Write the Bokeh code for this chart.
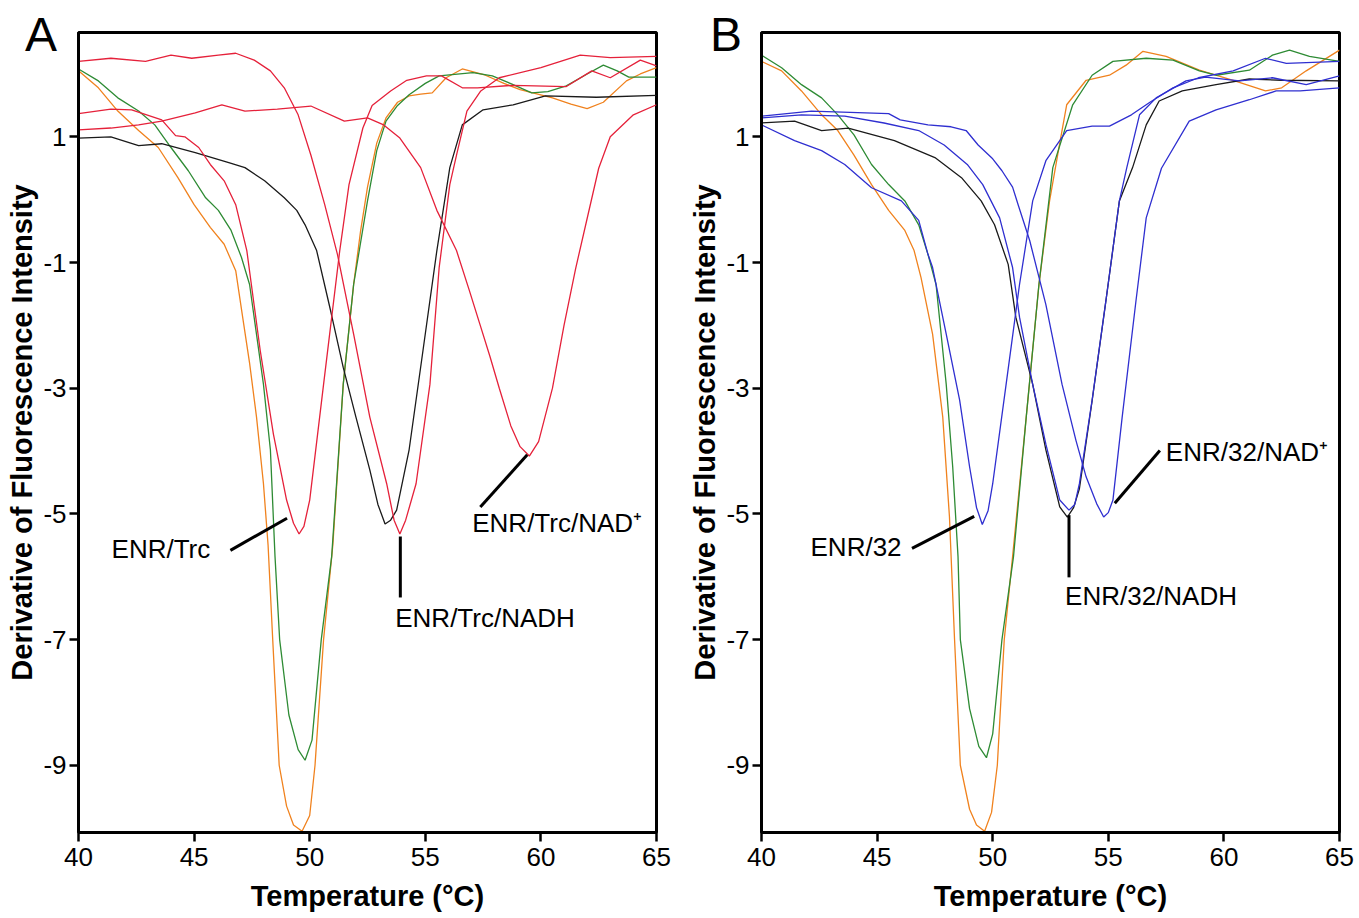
from bokeh.plotting import figure
from bokeh.layouts import row, column
from bokeh.models import FixedTicker, Range1d, Label, Div
from bokeh.embed import file_html
from bokeh.resources import INLINE

# ---------------- data ----------------
x_ticks = [40, 45, 50, 55, 60, 65]
y_ticks = [-9, -7, -5, -3, -1, 1]
y_tick_labels = ["-9", "-7", "-5", "-3", "-1", "1"]
panel_letters = ["A", "B"]

# Panel A
A_orange_T = [40.0, 40.86, 41.7, 42.6, 43.45, 44.3, 45.0, 45.7, 46.3, 46.8, 47.1, 47.4, 47.7, 48.0, 48.2, 48.4, 48.68, 49.0, 49.3, 49.67, 50.0, 50.23, 50.6, 51.0, 51.45, 51.9, 52.2, 52.5, 52.9, 53.3, 53.8, 54.3, 54.8, 55.3, 55.9, 56.6, 57.6, 58.4, 59.1, 60.5, 61.3, 62.0, 62.7, 63.7, 64.3, 65.0]
A_orange_Y = [2.05, 1.78, 1.41, 1.10, 0.83, 0.35, -0.08, -0.44, -0.71, -1.13, -1.87, -2.6, -3.46, -4.52, -5.5, -7.0, -9.0, -9.65, -9.95, -10.05, -9.8, -9.0, -7.0, -5.5, -2.94, -1.35, -0.5, 0.2, 0.9, 1.3, 1.55, 1.65, 1.68, 1.70, 1.94, 2.08, 1.98, 1.85, 1.75, 1.62, 1.52, 1.45, 1.55, 1.89, 2.0, 2.10]

A_green_T = [40.0, 40.86, 41.7, 42.6, 43.3, 44.0, 44.75, 45.5, 46.05, 46.6, 47.05, 47.4, 48.0, 48.3, 48.5, 48.7, 49.1, 49.5, 49.8, 50.1, 50.5, 50.95, 51.45, 51.9, 52.5, 52.9, 53.3, 53.8, 54.3, 55.0, 55.6, 57.06, 57.9, 58.8, 59.6, 60.3, 61.1, 62.0, 62.7, 63.3, 63.8, 65.0]
A_green_Y = [2.08, 1.89, 1.62, 1.41, 1.19, 0.83, 0.46, 0.03, -0.17, -0.49, -0.92, -1.35, -2.94, -3.98, -5.68, -7.0, -8.2, -8.75, -8.92, -8.6, -7.0, -5.68, -2.94, -1.35, -0.02, 0.78, 1.25, 1.5, 1.67, 1.85, 1.97, 2.02, 1.97, 1.83, 1.70, 1.72, 1.81, 2.0, 2.14, 2.05, 1.95, 1.95]

A_black_T = [40.0, 41.4, 42.6, 43.6, 45.05, 46.5, 47.2, 48.05, 48.9, 49.44, 49.8, 50.3, 50.9, 51.45, 52.0, 52.6, 52.95, 53.26, 53.5, 53.76, 54.3, 54.9, 55.5, 56.06, 56.6, 57.5, 58.8, 60.2, 62.4, 65.0]
A_black_Y = [0.98, 1.0, 0.86, 0.89, 0.75, 0.59, 0.51, 0.30, 0.03, -0.17, -0.4, -0.81, -1.76, -2.67, -3.46, -4.3, -4.85, -5.16, -5.1, -4.94, -3.98, -2.40, -0.81, 0.51, 1.19, 1.43, 1.51, 1.65, 1.63, 1.66]

A_trc_T = [40.0, 41.4, 42.3, 43.6, 44.2, 44.6, 45.2, 45.7, 46.3, 46.8, 47.28, 47.86, 48.43, 49.0, 49.3, 49.54, 49.75, 50.0, 50.6, 51.3, 51.7, 52.3, 52.7, 53.5, 54.2, 55.05, 55.7, 56.6, 57.26, 58.8, 61.1, 62.2, 63.0, 64.3, 65.0]
A_trc_Y = [1.37, 1.44, 1.43, 1.27, 1.02, 1.00, 0.83, 0.56, 0.30, -0.08, -0.81, -2.40, -3.73, -4.78, -5.15, -5.32, -5.2, -4.78, -2.94, -0.81, 0.24, 1.14, 1.5, 1.73, 1.90, 1.97, 1.97, 1.78, 1.78, 1.82, 1.80, 2.05, 1.94, 2.22, 2.13]

A_nadh_T = [40.0, 41.4, 42.9, 44.0, 44.9, 46.05, 46.8, 47.6, 48.3, 48.9, 49.5, 50.05, 50.65, 51.2, 51.9, 52.6, 53.33, 53.65, 53.9, 54.15, 54.6, 55.2, 55.6, 56.06, 56.35, 56.8, 57.4, 58.2, 60.0, 61.7, 63.0, 65.0]
A_nadh_Y = [2.20, 2.25, 2.20, 2.30, 2.25, 2.30, 2.33, 2.22, 2.05, 1.78, 1.35, 0.71, -0.08, -0.87, -2.14, -3.46, -4.52, -5.1, -5.32, -5.1, -4.52, -2.94, -1.08, 0.24, 0.71, 1.41, 1.73, 1.94, 2.10, 2.30, 2.26, 2.28]

A_nad_T = [40.0, 41.4, 42.6, 43.6, 45.05, 46.2, 47.2, 48.6, 50.05, 51.5, 52.5, 53.2, 53.9, 54.8, 55.5, 56.35, 56.9, 57.36, 57.8, 58.2, 58.7, 59.1, 59.5, 59.9, 60.5, 61.0, 61.5, 62.0, 62.5, 63.0, 64.0, 65.0]
A_nad_Y = [1.11, 1.14, 1.19, 1.25, 1.38, 1.51, 1.41, 1.44, 1.49, 1.25, 1.30, 1.19, 0.98, 0.51, -0.17, -0.81, -1.44, -1.98, -2.5, -3.0, -3.6, -3.93, -4.08, -3.85, -3.0, -2.0, -1.1, -0.3, 0.5, 1.0, 1.35, 1.51]

# Panel B
B_orange_T = [40.0, 40.87, 41.73, 42.6, 43.3, 44.0, 44.76, 45.5, 46.2, 46.6, 46.9, 47.4, 47.84, 48.13, 48.35, 48.6, 49.0, 49.3, 49.65, 49.95, 50.2, 50.5, 50.86, 51.45, 52.0, 52.46, 52.9, 53.2, 54.04, 55.05, 55.77, 56.5, 57.5, 58.94, 60.4, 61.8, 62.5, 63.56, 65.0]
B_orange_Y = [2.20, 2.05, 1.73, 1.35, 1.10, 0.71, 0.24, -0.17, -0.49, -0.81, -1.24, -2.14, -3.46, -5.05, -7.0, -9.0, -9.7, -9.95, -10.05, -9.75, -9.0, -7.0, -5.68, -3.46, -1.35, -0.02, 0.9, 1.51, 1.90, 1.98, 2.14, 2.36, 2.28, 2.06, 1.90, 1.73, 1.78, 2.05, 2.38]

B_green_T = [40.0, 40.87, 41.73, 42.6, 43.3, 44.0, 44.76, 45.5, 46.2, 46.8, 47.2, 47.55, 47.99, 48.27, 48.5, 48.6, 49.0, 49.4, 49.73, 50.0, 50.4, 50.9, 51.45, 52.0, 52.6, 53.46, 54.3, 55.2, 56.64, 57.8, 58.94, 59.66, 61.1, 62.1, 62.84, 63.7, 65.0]
B_green_Y = [2.30, 2.10, 1.83, 1.62, 1.35, 1.03, 0.56, 0.24, -0.02, -0.40, -0.87, -1.35, -2.94, -4.25, -5.68, -7.0, -8.1, -8.7, -8.88, -8.5, -7.0, -5.68, -3.46, -1.35, 0.51, 1.51, 1.98, 2.20, 2.25, 2.22, 2.05, 1.98, 2.06, 2.30, 2.38, 2.28, 2.20]

B_black_T = [40.0, 41.43, 42.6, 43.75, 45.75, 47.5, 48.65, 49.5, 50.08, 50.67, 51.0, 51.73, 52.3, 52.9, 53.23, 53.5, 53.75, 54.3, 54.9, 55.48, 56.05, 56.64, 57.2, 58.2, 59.66, 61.1, 62.5, 65.0]
B_black_Y = [1.22, 1.25, 1.10, 1.14, 0.94, 0.67, 0.35, -0.02, -0.40, -1.03, -1.87, -2.94, -3.98, -4.89, -5.05, -4.9, -4.6, -3.2, -1.6, -0.02, 0.51, 1.19, 1.57, 1.73, 1.83, 1.92, 1.90, 1.89]

B_e32_T = [40.0, 41.43, 42.6, 43.6, 44.76, 46.05, 46.8, 47.2, 47.4, 47.99, 48.57, 49.0, 49.3, 49.55, 49.8, 50.0, 50.58, 51.16, 51.73, 52.3, 53.2, 54.3, 55.05, 56.0, 56.8, 57.8, 58.9, 60.4, 61.8, 62.7, 65.0]
B_e32_Y = [1.19, 0.94, 0.78, 0.56, 0.19, -0.02, -0.33, -0.87, -1.08, -2.14, -3.19, -4.25, -4.9, -5.17, -4.95, -4.52, -2.94, -1.35, -0.02, 0.62, 1.10, 1.17, 1.17, 1.35, 1.55, 1.78, 1.94, 2.05, 2.25, 2.17, 2.20]

B_nadh_T = [40.0, 41.73, 43.6, 45.3, 46.8, 47.9, 48.9, 49.57, 50.3, 50.86, 51.16, 51.73, 52.3, 52.9, 53.3, 53.55, 53.75, 54.3, 54.9, 55.48, 55.8, 56.35, 57.07, 58.36, 59.2, 60.67, 62.1, 63.56, 65.0]
B_nadh_Y = [1.30, 1.35, 1.33, 1.22, 1.10, 0.87, 0.56, 0.24, -0.29, -1.08, -1.87, -2.94, -3.89, -4.78, -4.94, -4.85, -4.52, -3.19, -1.60, -0.02, 0.51, 1.35, 1.62, 1.89, 1.95, 1.89, 1.94, 1.83, 1.97]

B_nad_T = [40.0, 42.16, 45.5, 46.0, 47.2, 48.2, 48.85, 49.37, 50.0, 50.4, 50.86, 51.1, 51.6, 52.3, 53.0, 53.6, 54.04, 54.5, 54.8, 55.0, 55.2, 55.6, 56.2, 56.64, 57.3, 58.5, 59.66, 61.1, 62.26, 63.3, 65.0]
B_nad_Y = [1.33, 1.41, 1.37, 1.27, 1.19, 1.16, 1.10, 0.87, 0.65, 0.46, 0.20, -0.08, -0.65, -1.67, -2.94, -3.83, -4.41, -4.84, -5.05, -4.98, -4.78, -3.46, -1.60, -0.29, 0.50, 1.25, 1.43, 1.59, 1.73, 1.73, 1.78]

# annotation texts
A_labels = ["ENR/Trc", "ENR/Trc/NADH", "ENR/Trc/NAD\u207a"]
B_labels = ["ENR/32", "ENR/32/NADH", "ENR/32/NAD\u207a"]

# ---------------- styles / layout ----------------
ORANGE = "#F0821E"
GREEN = "#2E8B34"
RED = "#E5213A"
BLUE = "#2F2FD0"
BLACK = "#1a1a1a"
FONT = "Liberation Sans"

# label anchor positions (x, y) and leader segments (x0, y0, x1, y1) in data units
A_label_pos = [(41.43, -5.56), (53.7, -6.66), (57.03, -5.15)]
A_leaders = [(46.57, -5.58, 49.02, -5.07), (53.92, -5.36, 53.92, -6.33), (57.38, -4.89, 59.41, -4.06)]
B_label_pos = [(42.12, -5.53), (53.13, -6.30), (57.49, -4.02)]
B_leaders = [(46.51, -5.55, 49.2, -5.04), (53.3, -5.02, 53.3, -6.01), (55.28, -4.83, 57.23, -3.99)]
letter_left_px = [25, 710]
letter_top_px = 5


def make_panel(curves, labels, label_pos, leaders, left_border, right_border):
    p = figure(frame_width=578, frame_height=800,
               x_range=Range1d(40, 65), y_range=Range1d(-10.07, 2.66),
               output_backend="svg", toolbar_location=None,
               min_border_left=left_border, min_border_right=right_border,
               min_border_top=32, min_border_bottom=80,
               background_fill_color="white", border_fill_color="white")
    p.grid.visible = False
    p.outline_line_color = "black"
    p.outline_line_width = 3
    p.outline_line_alpha = 1.0

    p.xaxis.ticker = FixedTicker(ticks=x_ticks)
    p.yaxis.ticker = FixedTicker(ticks=y_ticks)
    p.yaxis.major_label_overrides = {t: s for t, s in zip(y_ticks, y_tick_labels)}
    for ax in (p.xaxis[0], p.yaxis[0]):
        ax.axis_line_width = 3
        ax.axis_line_color = "black"
        ax.major_tick_line_width = 2.5
        ax.major_tick_line_color = "black"
        ax.major_tick_out = 9
        ax.major_tick_in = 0
        ax.minor_tick_line_color = None
        ax.major_label_text_font = FONT
        ax.major_label_text_font_size = "26px"
        ax.major_label_text_color = "black"
        ax.axis_label_text_font = FONT
        ax.axis_label_text_font_style = "bold"
        ax.axis_label_text_font_size = "29px"
        ax.axis_label_text_color = "black"
    p.xaxis.axis_label = "Temperature (\u00b0C)"
    p.yaxis.axis_label = "Derivative of Fluorescence Intensity"
    p.xaxis.major_label_standoff = 6
    p.xaxis.axis_label_standoff = 11
    p.yaxis.major_label_standoff = 3
    p.yaxis.axis_label_standoff = 2

    for T, Y, col in curves:
        p.line(T, Y, line_color=col, line_width=1.3)

    for (x0, y0, x1, y1) in leaders:
        p.segment(x0=[x0], y0=[y0], x1=[x1], y1=[y1], line_color="black", line_width=3)

    for txt, (lx, ly) in zip(labels, label_pos):
        p.add_layout(Label(x=lx, y=ly, text=txt, text_font=FONT, text_font_size="26px",
                           text_baseline="middle", text_align="left", text_color="black"))
    return p


pA = make_panel([(A_orange_T, A_orange_Y, ORANGE), (A_green_T, A_green_Y, GREEN),
                 (A_black_T, A_black_Y, BLACK), (A_trc_T, A_trc_Y, RED),
                 (A_nadh_T, A_nadh_Y, RED), (A_nad_T, A_nad_Y, RED)],
                A_labels, A_label_pos, A_leaders, 78, 27)
pB = make_panel([(B_orange_T, B_orange_Y, ORANGE), (B_green_T, B_green_Y, GREEN),
                 (B_black_T, B_black_Y, BLACK), (B_e32_T, B_e32_Y, BLUE),
                 (B_nadh_T, B_nadh_Y, BLUE), (B_nad_T, B_nad_Y, BLUE)],
                B_labels, B_label_pos, B_leaders, 78, 18)

spans = "".join(
    '<span style="position:absolute;left:%dpx;top:%dpx;">%s</span>' % (lx, letter_top_px, t)
    for t, lx in zip(panel_letters, letter_left_px))
letters_html = ('<div style="position:relative;width:1350px;height:60px;'
                "font-family:'Liberation Sans',Arial,sans-serif;font-size:48px;color:black;"
                'line-height:normal;">' + spans + '</div>')
letters = Div(text=letters_html, width=1350, height=60, margin=(-912, 0, 0, 0))

layout = column(row(pA, pB), letters)
open("out.html", "w").write(file_html(layout, INLINE))
